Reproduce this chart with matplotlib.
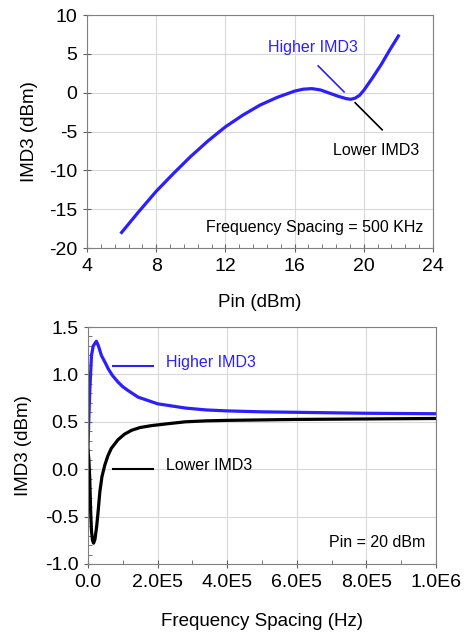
import matplotlib
matplotlib.use('Agg')
import matplotlib.pyplot as plt
from matplotlib.ticker import MultipleLocator, FuncFormatter

plt.rcParams['font.family'] = ['Liberation Sans', 'DejaVu Sans']
plt.rcParams['axes.unicode_minus'] = False

BLUE = '#2b1fff'

# 上图: IMD3 vs Pin (Frequency Spacing = 500 KHz)
pin = [6, 7, 8, 9, 10, 11, 12, 13, 14, 15, 15.5, 16, 16.5, 17, 17.5, 18, 18.5, 19,
       19.25, 19.5, 19.75, 20, 20.5, 21, 21.5, 22]
imd3_pin = [-18.0, -15.3, -12.7, -10.4, -8.2, -6.2, -4.4, -2.9, -1.6, -0.6, -0.2, 0.2,
            0.45, 0.52, 0.35, -0.05, -0.45, -0.78, -0.85, -0.7, -0.35, 0.3, 1.9, 3.6,
            5.5, 7.3]

# 下图: IMD3 vs Frequency Spacing (Pin = 20 dBm)
spacing_high = [0, 2.5e3, 5e3, 1e4, 1.5e4, 2.4e4, 3e4, 3.85e4, 5e4, 5.8e4, 7e4, 8.6e4,
                1e5, 1.15e5, 1.44e5, 2e5, 2.8e5, 3.4e5, 4e5, 5e5, 6e5, 8e5, 1e6]
imd3_high = [0.2, 0.55, 0.82, 1.2, 1.3, 1.35, 1.3, 1.2, 1.12, 1.06, 0.99, 0.92,
             0.87, 0.83, 0.76, 0.69, 0.645, 0.625, 0.615, 0.605, 0.6, 0.59, 0.585]
spacing_low = [0, 2.5e3, 5e3, 7.7e3, 1e4, 1.3e4, 1.6e4, 2e4, 2.5e4, 2.9e4, 3.4e4, 4e4,
               4.8e4, 5.7e4, 6.7e4, 8.6e4, 1.05e5, 1.25e5, 1.5e5, 1.83e5, 2.3e5, 2.8e5,
               3.4e5, 4e5, 5e5, 6e5, 8e5, 1e6]
imd3_low = [0.2, 0.1, -0.1, -0.45, -0.65, -0.75, -0.78, -0.74, -0.6, -0.45, -0.24,
            -0.08, 0.04, 0.14, 0.22, 0.31, 0.37, 0.41, 0.44, 0.46, 0.48, 0.5, 0.51,
            0.515, 0.52, 0.525, 0.53, 0.535]


def sci_label(v, pos):
    if v == 0:
        return '0.0'
    mant, exp = f'{v:.1e}'.split('e')
    return f'{mant}E{int(exp)}'


def style_axes(ax):
    ax.grid(True, which='major', color='#d8d8d8', linewidth=0.8)
    for s in ax.spines.values():
        s.set_color('#808080')
    ax.tick_params(which='major', direction='inout', length=6, color='#606060',
                   labelsize=14, pad=4)
    ax.tick_params(which='minor', direction='in', length=3, color='#606060')
    ax.tick_params(top=False, right=False, which='both')


fig = plt.figure(figsize=(4.7, 6.33), dpi=100)

# 上图
ax1 = fig.add_axes([87 / 470, 1 - 248 / 633, 346 / 470, 233 / 633])
ax1.plot(pin, imd3_pin, color=BLUE, linewidth=2.3, solid_joinstyle='round')
ax1.set_xlim(4, 24)
ax1.set_ylim(-20, 10)
ax1.xaxis.set_major_locator(MultipleLocator(4))
ax1.xaxis.set_minor_locator(MultipleLocator(0.8))
ax1.yaxis.set_major_locator(MultipleLocator(5))
style_axes(ax1)
ax1.set_xlabel('Pin (dBm)', fontsize=13.5, labelpad=14)
ax1.set_ylabel('IMD3 (dBm)', fontsize=13.5, labelpad=8)
ax1.text(17.07, 5.76, 'Higher IMD3', color=BLUE, fontsize=11.5, ha='center', va='center')
ax1.plot([17.36, 18.86], [3.45, 0.1], color=BLUE, linewidth=1.2)
ax1.text(20.7, -7.5, 'Lower IMD3', color='black', fontsize=11.5, ha='center', va='center')
ax1.plot([19.5, 21.06], [-1.3, -4.78], color='black', linewidth=1.2)
ax1.text(23.43, -17.4, 'Frequency Spacing = 500 KHz', fontsize=11.5, ha='right', va='center')

# 下图
ax2 = fig.add_axes([88 / 470, 1 - 564 / 633, 348 / 470, 237 / 633])
ax2.plot(spacing_high, imd3_high, color=BLUE, linewidth=2.3, solid_joinstyle='round')
ax2.plot(spacing_low, imd3_low, color='black', linewidth=2.3, solid_joinstyle='round')
ax2.set_xlim(0, 1e6)
ax2.set_ylim(-1.0, 1.5)
ax2.xaxis.set_major_locator(MultipleLocator(2e5))
ax2.xaxis.set_minor_locator(MultipleLocator(1e5))
ax2.yaxis.set_major_locator(MultipleLocator(0.5))
ax2.yaxis.set_minor_locator(MultipleLocator(0.1))
ax2.xaxis.set_major_formatter(FuncFormatter(sci_label))
ax2.yaxis.set_major_formatter(FuncFormatter(lambda v, p: '%.1f' % v))
style_axes(ax2)
ax2.set_xlabel('Frequency Spacing (Hz)', fontsize=13.5, labelpad=16)
ax2.set_ylabel('IMD3 (dBm)', fontsize=13.5, labelpad=9)
ax2.plot([0.71e5, 1.86e5], [1.086, 1.086], color=BLUE, linewidth=1.5)
ax2.text(2.23e5, 1.128, 'Higher IMD3', color=BLUE, fontsize=11.5, ha='left', va='center')
ax2.plot([0.71e5, 1.86e5], [0.0, 0.0], color='black', linewidth=1.5)
ax2.text(2.23e5, 0.043, 'Lower IMD3', color='black', fontsize=11.5, ha='left', va='center')
ax2.text(9.68e5, -0.77, 'Pin = 20 dBm', fontsize=11.5, ha='right', va='center')

fig.savefig('out.png', dpi=100)
